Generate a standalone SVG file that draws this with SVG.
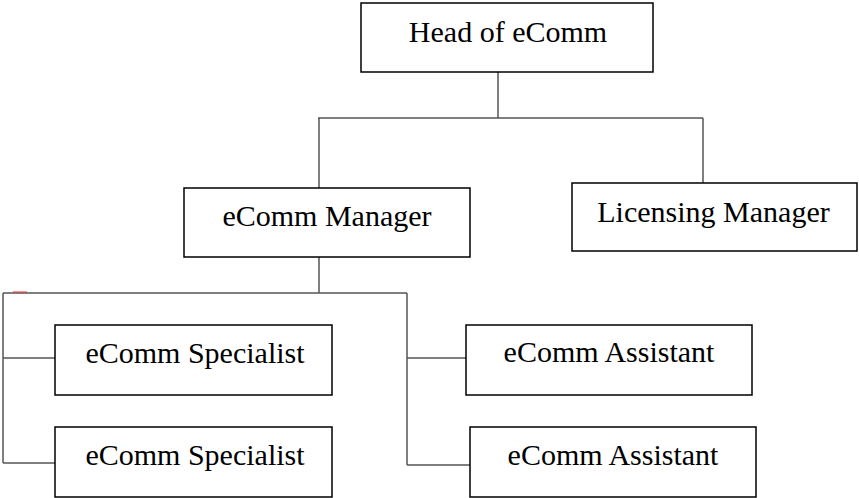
<svg xmlns="http://www.w3.org/2000/svg" width="859" height="498" viewBox="0 0 859 498">
<style>
.box{fill:#fff;stroke:#000;stroke-width:1.5}
.lbl{font-family:"Liberation Serif","DejaVu Serif",serif;font-size:30px;fill:#000;text-anchor:middle}
.conn line{stroke:#555;stroke-width:1.5}
</style>
<rect width="859" height="498" fill="#fff"/>
<g id="connectors" class="conn">
<line x1="498" y1="72" x2="498" y2="118"/>
<line x1="318" y1="118" x2="703" y2="118"/>
<line x1="319" y1="118" x2="319" y2="188"/>
<line x1="703" y1="118" x2="703" y2="183"/>
<line x1="319" y1="257" x2="319" y2="293"/>
<line x1="3" y1="293" x2="407" y2="293"/>
<line x1="3" y1="293" x2="3" y2="463"/>
<line x1="3" y1="358" x2="55" y2="358"/>
<line x1="3" y1="463" x2="55" y2="463"/>
<line x1="407" y1="293" x2="407" y2="465"/>
<line x1="407" y1="358" x2="466" y2="358"/>
<line x1="407" y1="465" x2="470" y2="465"/>
<line x1="13" y1="292" x2="27" y2="292" style="stroke:#e33;stroke-width:1"/>
</g>
<g id="head"><rect class="box" x="361" y="3" width="292" height="69"/><text class="lbl" x="508" y="42">Head of eComm</text></g>
<g id="ecomm-manager"><rect class="box" x="184" y="188" width="286" height="69"/><text class="lbl" x="327" y="226">eComm Manager</text></g>
<g id="licensing-manager"><rect class="box" x="572" y="183" width="285" height="68"/><text class="lbl" x="713.5" y="222">Licensing Manager</text></g>
<g id="specialist-1"><rect class="box" x="55" y="325" width="277" height="70"/><text class="lbl" x="195" y="363">eComm Specialist</text></g>
<g id="specialist-2"><rect class="box" x="55" y="427" width="277" height="70"/><text class="lbl" x="195" y="465">eComm Specialist</text></g>
<g id="assistant-1"><rect class="box" x="466" y="325" width="286" height="70"/><text class="lbl" x="609" y="362">eComm Assistant</text></g>
<g id="assistant-2"><rect class="box" x="470" y="427" width="286" height="70"/><text class="lbl" x="613" y="465">eComm Assistant</text></g>
</svg>
